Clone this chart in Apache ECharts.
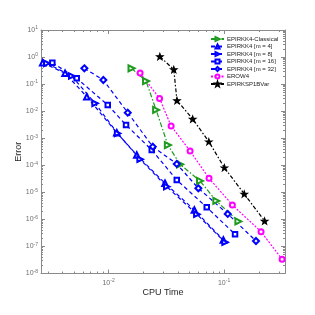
<!DOCTYPE html>
<html><head><meta charset="utf-8">
<script src="https://cdn.jsdelivr.net/npm/echarts@6/dist/echarts.min.js"></script>
<style>html,body{margin:0;padding:0;background:#fff}#c{width:315px;height:315px}</style>
</head><body><div id="c"></div>
<script>
// ---- data ----
const names = ['EPIRKK4-Classical','EPIRKK4 [m = 4]','EPIRKK4 [m = 8]','EPIRKK4 [m = 16]','EPIRKK4 [m = 32]','EROW4','EPIRKSP1BVar'];
const classicalX = [0.0158,0.0211,0.0258,0.0326,0.0416,0.0619,0.0857,0.133];
const classicalY = [0.384,0.130,0.0111,5.6e-4,1.09e-4,2.63e-5,4.8e-6,8.4e-7];
const m4X = [0.00269,0.0042,0.00648,0.01178,0.01754,0.0308,0.0553,0.0986];
const m4Y = [0.619,0.251,0.0343,0.0016,2.40e-4,2.16e-5,2.23e-6,1.73e-7];
const m8X = [0.00292,0.0048,0.00764,0.01197,0.01875,0.0319,0.0581,0.102];
const m8Y = [0.588,0.1995,0.01955,0.0015,1.67e-4,1.62e-5,1.55e-6,1.43e-7];
const m16X = [0.00326,0.0053,0.00984,0.01417,0.02366,0.03896,0.0708,0.1245];
const m16Y = [0.619,0.164,0.0169,0.00309,3.67e-4,2.86e-5,2.8e-6,2.82e-7];
const m32X = [0.00617,0.00901,0.01466,0.02414,0.03896,0.0599,0.1076,0.189];
const m32Y = [0.384,0.142,0.00879,4.87e-4,1.12e-4,1.41e-5,1.59e-6,1.59e-7];
const erowX = [0.01875,0.02765,0.0348,0.0508,0.0741,0.118,0.209,0.318];
const erowY = [0.2576,0.0294,0.00283,3.38e-4,3.31e-5,3.41e-6,3.52e-7,3.36e-8];
const spX = [0.0278,0.0367,0.0391,0.0535,0.0738,0.1007,0.1496,0.2244];
const spY = [1.05,0.347,0.0248,0.00514,7.45e-4,8.15e-5,8.7e-6,8.7e-7];
const xTicks = [0.01, 0.1];
const yTicks = [1e-8,1e-7,1e-6,1e-5,1e-4,1e-3,1e-2,1e-1,1,10];
const xRange = [0.0026, 0.337];
const yRange = [1e-8, 10];
const xTitle = 'CPU Time', yTitle = 'Error';

// ---- helpers ----
function minorTicks(range){
  const out=[]; const k0=Math.floor(Math.log10(range[0])), k1=Math.ceil(Math.log10(range[1]));
  for(let k=k0;k<=k1;k++){for(let m=2;m<=9;m++){const v=m*Math.pow(10,k); if(v>range[0]*1.0001&&v<range[1]*0.9999) out.push(v);}}
  return out;
}
function pairs(xs,ys){return xs.map((x,i)=>[x,ys[i]]);}
function sup(v){const e=Math.round(Math.log10(v)); if(Math.abs(Math.log10(v)-e)>1e-6) return ''; return '{b|10}{s|'+e+'}';}
const axCol='#8a8a8a', labCol='#6e6e6e';
const rich={b:{fontSize:7,color:labCol,fontFamily:'Liberation Sans'},s:{fontSize:5,color:labCol,verticalAlign:'top',padding:[0,0,4,0],fontFamily:'Liberation Sans'}};
function xAx(pos,major,showLab,extra){
  return Object.assign({type:'log',logBase:10,position:pos,min:xRange[0],max:xRange[1],gridIndex:0,
    axisLine:{show:major,lineStyle:{color:axCol,width:1}},
    axisTick:{show:true,inside:true,length:major?4:2,customValues:major?xTicks:minorTicks(xRange),lineStyle:{color:axCol}},
    axisLabel:{show:showLab,customValues:xTicks,formatter:sup,rich:rich,margin:5},
    splitLine:{show:false},minorTick:{show:false}},extra||{});
}
function yAx(pos,major,showLab,extra){
  return Object.assign({type:'log',logBase:10,position:pos,min:yRange[0],max:yRange[1],gridIndex:0,
    axisLine:{show:major,lineStyle:{color:axCol,width:1}},
    axisTick:{show:true,inside:true,length:major?4:2,customValues:major?yTicks:minorTicks(yRange),lineStyle:{color:axCol}},
    axisLabel:{show:showLab,customValues:yTicks,formatter:sup,rich:rich,margin:3},
    splitLine:{show:false},minorTick:{show:false}},extra||{});
}
const star='path://M0,-10L2.35,-3.24L9.51,-3.09L3.8,1.24L5.88,8.09L0,4L-5.88,8.09L-3.8,1.24L-9.51,-3.09L-2.35,-3.24Z';
function ser(name,xs,ys,color,symbol,size,dash,rot,filled){
  return {name:name,type:'line',data:pairs(xs,ys),xAxisIndex:0,yAxisIndex:0,
    symbol:symbol,symbolSize:size,symbolRotate:rot||0,symbolKeepAspect:true,showAllSymbol:true,
    lineStyle:{color:color,width:1.2,type:dash},
    itemStyle:{color:color,borderColor:color,borderWidth:1.1},
    emphasis:{disabled:true},animation:false,z:3};
}
const chart=echarts.init(document.getElementById('c'),null,{renderer:'canvas'});
chart.setOption({
  backgroundColor:'#fff',
  animation:false,
  textStyle:{fontFamily:'Liberation Sans'},
  grid:{left:41,right:30,top:30,bottom:41.5,containLabel:false},
  xAxis:[
    xAx('bottom',true,true,{name:xTitle,nameLocation:'middle',nameGap:15,nameMoveOverlap:false,nameTextStyle:{fontSize:9,color:'#262626',fontFamily:'Liberation Sans'}}),
    xAx('bottom',false,false),
    xAx('top',true,false),
    xAx('top',false,false)
  ],
  yAxis:[
    yAx('left',true,true,{name:yTitle,nameLocation:'middle',nameGap:18,nameMoveOverlap:false,nameTextStyle:{fontSize:9,color:'#262626',fontFamily:'Liberation Sans'}}),
    yAx('left',false,false),
    yAx('right',true,false),
    yAx('right',false,false)
  ],
  legend:{show:true,orient:'vertical',left:210,top:35.5,padding:0,itemWidth:13,itemHeight:5,itemGap:0.5,
    textStyle:{fontSize:6,lineHeight:7,color:'#222',fontFamily:'Liberation Sans',padding:[0,0,0,-2]},data:names},
  series:[
    ser(names[0],classicalX,classicalY,'#1e9a1e','emptyTriangle',6,[5,2,1.5,2],-90),
    ser(names[1],m4X,m4Y,'#0000ff','emptyTriangle',5.5,[4,3],0),
    ser(names[2],m8X,m8Y,'#0000ff','emptyTriangle',5.5,[4,3],-90),
    ser(names[3],m16X,m16Y,'#0000ff','emptyRect',4.5,[4,3],0),
    ser(names[4],m32X,m32Y,'#0000ff','emptyDiamond',6,[4,3],0),
    ser(names[5],erowX,erowY,'#ff00ff','emptyCircle',5,[2,1.5],0),
    ser(names[6],spX,spY,'#000000',star,6.5,[4,2,1.5,2],0,true)
  ]
});
</script></body></html>
